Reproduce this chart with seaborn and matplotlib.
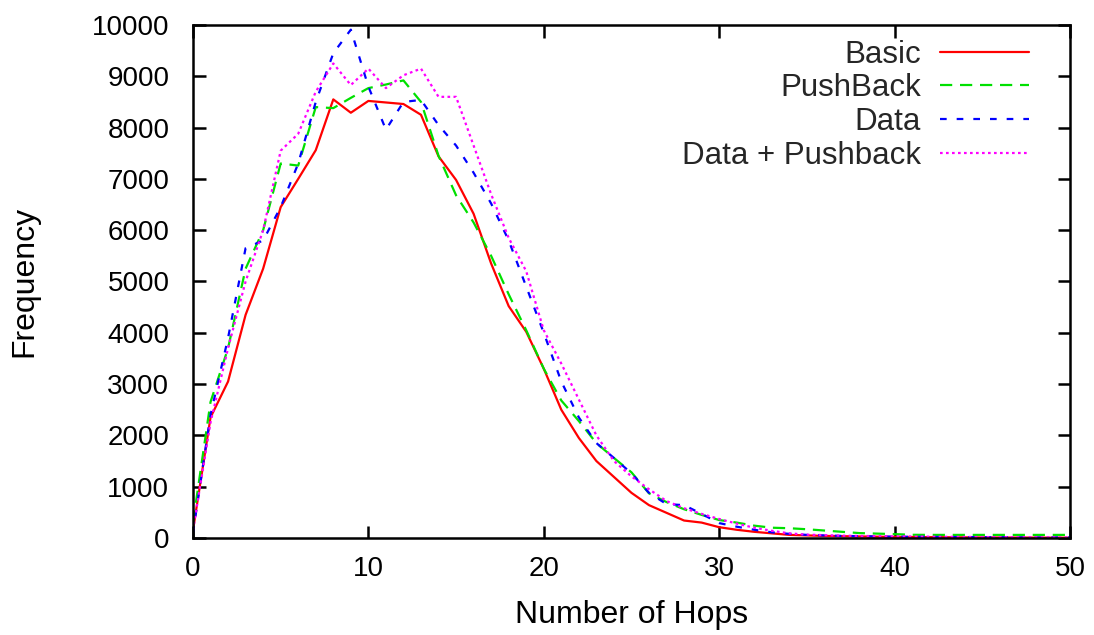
import numpy as np
import pandas as pd
import matplotlib
matplotlib.use("Agg")
import matplotlib.pyplot as plt
import seaborn as sns

hops = list(range(0, 51))

basic = [150, 2350, 3050, 4350, 5250, 6450, 7000, 7560, 8550, 8290, 8520,
         8490, 8460, 8250, 7440, 6980, 6320, 5350, 4520, 4020, 3300, 2500,
         1950, 1500, 1190, 880, 640, 490, 340, 300, 210, 160, 120, 90, 60,
         50, 40, 35, 30, 25, 20, 18, 16, 14, 12, 10, 9, 8, 7, 6, 5]
pushback = [300, 2650, 3700, 5250, 6000, 7300, 7260, 8400, 8380, 8580, 8770,
            8840, 8920, 8500, 7450, 6680, 6150, 5500, 4750, 4050, 3300, 2680,
            2280, 1850, 1560, 1280, 870, 700, 560, 450, 350, 300, 240, 200,
            190, 170, 145, 120, 95, 85, 75, 62, 60, 60, 60, 60, 60, 60, 60, 60, 60]
data = [100, 2400, 3900, 5650, 5800, 6450, 7300, 8500, 9450, 9910, 8800,
        7960, 8500, 8540, 8050, 7650, 7120, 6520, 5800, 4900, 4000, 3050,
        2350, 1850, 1560, 1260, 880, 660, 640, 470, 290, 220, 160, 110, 80,
        60, 50, 40, 35, 30, 25, 22, 20, 18, 16, 15, 14, 12, 10, 10, 10]
data_pb = [150, 2250, 3700, 5000, 6000, 7550, 7880, 8700, 9250, 8830, 9150,
           8770, 9020, 9150, 8600, 8600, 7650, 6700, 5850, 5200, 4050, 3400,
           2700, 2000, 1500, 1200, 950, 720, 580, 470, 370, 280, 200, 140,
           90, 65, 55, 45, 40, 35, 30, 28, 25, 22, 20, 18, 16, 15, 14, 12, 10]

series_names = ["Basic", "PushBack", "Data", "Data + Pushback"]
colors = ["#ff0000", "#00e000", "#0000ff", "#ff00ff"]
dash_styles = [(None, None), (5.5, 3.5), (3, 4.5), (1.2, 1.5)]

df = pd.DataFrame({
    "hops": hops * 4,
    "freq": basic + pushback + data + data_pb,
    "series": sum([[n] * len(hops) for n in series_names], []),
})

sns.set_theme(style="white")
plt.rcParams['font.family'] = ['Liberation Sans', 'DejaVu Sans']

fig = plt.figure(figsize=(10.94, 6.35), dpi=100)
ax = fig.add_axes([0.1764, 0.1528, 0.978 - 0.1764, 0.9606 - 0.1528])

for name, col, ds in zip(series_names, colors, dash_styles):
    sub = df[df["series"] == name]
    sns.lineplot(data=sub, x="hops", y="freq", ax=ax, color=col,
                 linewidth=1.6, label=name)
    l = ax.lines[-1]
    if ds[0] is not None:
        l.set_dashes(ds)

ax.set_xlim(0, 50)
ax.set_ylim(0, 10000)
ax.set_xticks(range(0, 51, 10))
ax.set_yticks(range(0, 10001, 1000))
ax.tick_params(axis="both", which="major", direction="in", length=9, width=1.8,
               labelsize=20, top=True, right=True, bottom=True, left=True,
               color="black", labelcolor="black")
ax.tick_params(axis="y", pad=17)
ax.tick_params(axis="x", pad=13)
for s in ax.spines.values():
    s.set_linewidth(1.8)
    s.set_color("black")
    s.set_visible(True)

ax.set_xlabel("Number of Hops", fontsize=23, color="black", labelpad=13)
ax.set_ylabel("Frequency", fontsize=23, color="black")
ax.yaxis.set_label_coords(-0.1755, 0.5)

leg = ax.legend(loc="upper right", frameon=False, markerfirst=False,
                fontsize=22.5, handlelength=2.85, labelspacing=0.12,
                handletextpad=0.62, borderaxespad=0.0,
                bbox_to_anchor=(0.968, 0.996))

fig.savefig("out.png", dpi=100)
